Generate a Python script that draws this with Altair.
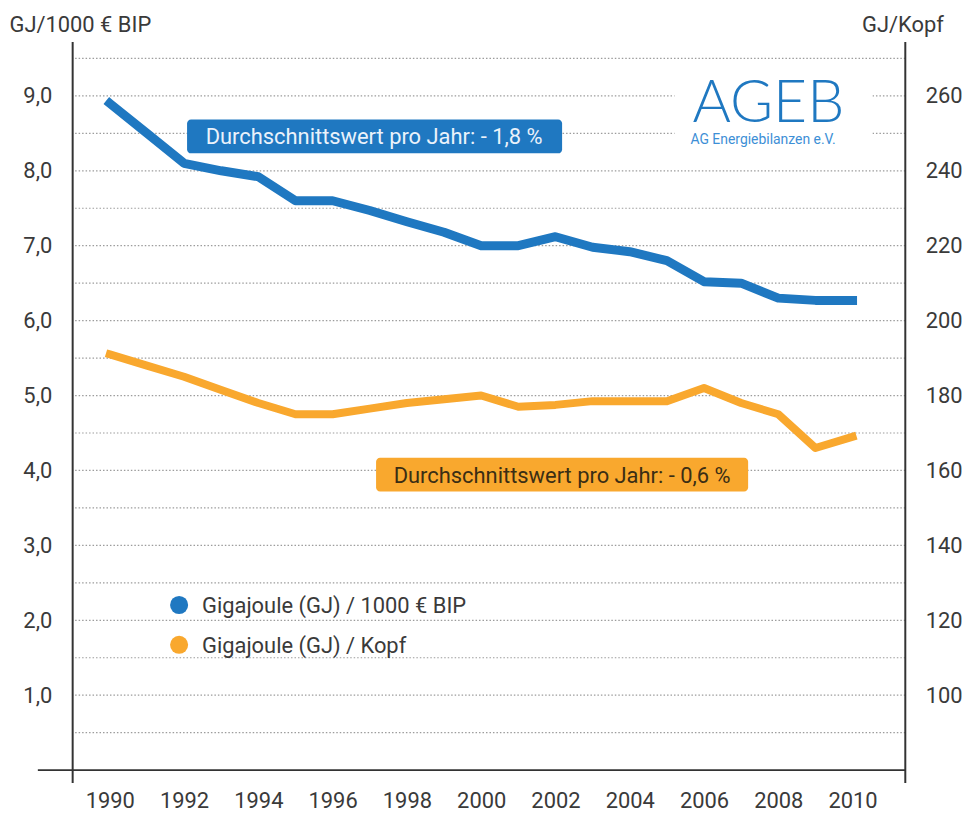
import altair as alt
import pandas as pd

# ---------------- data ----------------
years = list(range(1990, 2011))
gj_per_1000_eur_bip = [8.90, 8.50, 8.10, 8.00, 7.92, 7.60, 7.60, 7.47, 7.32, 7.18,
                       7.00, 7.00, 7.12, 6.98, 6.92, 6.80, 6.52, 6.50, 6.30, 6.27, 6.27]
gj_per_kopf = [191.0, 188.0, 185.0, 181.5, 178.0, 175.0, 175.0, 176.5, 178.0, 179.0,
               180.0, 177.0, 177.5, 178.5, 178.5, 178.5, 182.0, 178.0, 175.0, 166.0, 169.0]

x_ticks = list(range(1990, 2011, 2))
left_ticks = [1, 2, 3, 4, 5, 6, 7, 8, 9]
right_ticks = [100, 120, 140, 160, 180, 200, 220, 240, 260]
grid_levels = [0.5, 1.0, 1.5, 2.0, 2.5, 3.0, 3.5, 4.0, 4.5, 5.0,
               5.5, 6.0, 6.5, 7.0, 7.5, 8.0, 8.5, 9.0, 9.5]

series_names = ["Gigajoule (GJ) / 1000 € BIP", "Gigajoule (GJ) / Kopf"]
box_texts = ["Durchschnittswert pro Jahr: - 1,8 %", "Durchschnittswert pro Jahr: - 0,6 %"]
left_title = "GJ/1000 € BIP"
right_title = "GJ/Kopf"
logo_title = "AGEB"
logo_sub = "AG Energiebilanzen e.V."

# ---------------- styling ----------------
BLUE = "#1f78c1"
ORANGE = "#f9a82e"
TXT = "#3a3a3a"
FONT = "Roboto, Liberation Sans, sans-serif"
FS = 22
W, H = 837, 732

df = pd.DataFrame({"year": years, "bip": gj_per_1000_eur_bip, "kopf": gj_per_kopf})
grid_df = pd.DataFrame({"level": grid_levels})
one = pd.DataFrame({"k": [0]})

x_scale = alt.Scale(domain=[1989, 2011.42], nice=False, zero=False)
left_scale = alt.Scale(domain=[0, 9.72], nice=False, zero=False)
right_scale = alt.Scale(domain=[80, 274.4], nice=False, zero=False)

grid = alt.Chart(grid_df).mark_rule(
    color="#9c9c9c", strokeDash=[1.5, 2], strokeWidth=1.2
).encode(y=alt.Y("level:Q", scale=left_scale, axis=None))

logo_bg = alt.Chart(one).mark_rect(color="white").encode(
    x=alt.value(605), x2=alt.value(804), y=alt.value(30), y2=alt.value(110))

logo_big = alt.Chart(one).mark_text(
    text=logo_title, font="Lato, DejaVu Sans, sans-serif", fontWeight=300, fontSize=59,
    color=BLUE, align="left", baseline="alphabetic"
).encode(x=alt.value(623), y=alt.value(80))

logo_small = alt.Chart(one).mark_text(
    text=logo_sub, font=FONT, fontSize=14, color="#3d8fd6", align="left", baseline="alphabetic"
).encode(x=alt.value(621), y=alt.value(103))

axis_style = dict(color="#333333", strokeWidth=2)
left_line = alt.Chart(one).mark_rule(**axis_style).encode(
    x=alt.value(0), y=alt.value(0), y2=alt.value(745))
right_line = alt.Chart(one).mark_rule(**axis_style).encode(
    x=alt.value(W), y=alt.value(0), y2=alt.value(745))
base_line = alt.Chart(one).mark_rule(**axis_style).encode(
    x=alt.value(-35), x2=alt.value(W), y=alt.value(732))

x_axis = alt.Axis(values=x_ticks, format="d", title=None, domain=False, ticks=False, grid=False,
                  labelFont=FONT, labelFontSize=FS, labelColor=TXT, labelPadding=21,
                  labelFlush=False, labelOverlap=False)

left_axis = alt.Axis(values=left_ticks, title=left_title, domain=False, ticks=False, grid=False,
                     labelExpr="replace(format(datum.value, '.1f'), '.', ',')",
                     labelFont=FONT, labelFontSize=FS, labelColor=TXT, labelPadding=21,
                     titleAngle=0, titleAlign="left", titleBaseline="alphabetic",
                     titleX=-64, titleY=-10, titleFont=FONT, titleFontSize=FS,
                     titleFontWeight="normal", titleColor=TXT)

right_axis = alt.Axis(values=right_ticks, orient="right", title=right_title, domain=False,
                      ticks=False, grid=False, format="d",
                      labelFont=FONT, labelFontSize=FS, labelColor=TXT, labelPadding=20,
                      titleAngle=0, titleAlign="left", titleBaseline="alphabetic",
                      titleX=-44, titleY=-10, titleFont=FONT, titleFontSize=FS,
                      titleFontWeight="normal", titleColor=TXT)

line_bip = alt.Chart(df).mark_line(
    color=BLUE, strokeWidth=9, strokeCap="square", strokeJoin="round"
).encode(
    x=alt.X("year:Q", scale=x_scale, axis=x_axis),
    y=alt.Y("bip:Q", scale=left_scale, axis=left_axis),
)

line_kopf = alt.Chart(df).mark_line(
    color=ORANGE, strokeWidth=8, strokeCap="square", strokeJoin="round"
).encode(
    x=alt.X("year:Q", scale=x_scale),
    y=alt.Y("kopf:Q", scale=right_scale, axis=right_axis),
)

box_blue = alt.Chart(one).mark_rect(color=BLUE, cornerRadius=4).encode(
    x=alt.value(115), x2=alt.value(492), y=alt.value(78), y2=alt.value(112))
txt_blue = alt.Chart(one).mark_text(
    text=box_texts[0], font=FONT, fontSize=FS, color="#eaf2fb", align="center", baseline="middle"
).encode(x=alt.value(303), y=alt.value(96))

box_orange = alt.Chart(one).mark_rect(color=ORANGE, cornerRadius=4).encode(
    x=alt.value(305), x2=alt.value(679), y=alt.value(418), y2=alt.value(452))
txt_orange = alt.Chart(one).mark_text(
    text=box_texts[1], font=FONT, fontSize=FS, color="#3b2e14", align="center", baseline="middle"
).encode(x=alt.value(492), y=alt.value(436))

leg_dot1 = alt.Chart(one).mark_circle(color=BLUE, opacity=1, size=330).encode(
    x=alt.value(107), y=alt.value(566))
leg_dot2 = alt.Chart(one).mark_circle(color=ORANGE, opacity=1, size=330).encode(
    x=alt.value(107), y=alt.value(606))
leg_txt1 = alt.Chart(one).mark_text(
    text=series_names[0], font=FONT, fontSize=FS, color=TXT, align="left", baseline="middle"
).encode(x=alt.value(130), y=alt.value(567))
leg_txt2 = alt.Chart(one).mark_text(
    text=series_names[1], font=FONT, fontSize=FS, color=TXT, align="left", baseline="middle"
).encode(x=alt.value(130), y=alt.value(607))

chart = alt.layer(
    grid, logo_bg, logo_big, logo_small, left_line, right_line, base_line,
    line_bip, line_kopf, box_blue, txt_blue, box_orange, txt_orange,
    leg_dot1, leg_dot2, leg_txt1, leg_txt2,
).resolve_scale(
    y="independent"
).properties(
    width=W, height=H,
    autosize=alt.AutoSizeParams(type="none"),
    padding={"left": 65, "top": 32, "right": 58, "bottom": 44},
    background="white",
).configure_view(stroke=None)

chart.save("out.html", embed_options={"renderer": "svg", "actions": False})
